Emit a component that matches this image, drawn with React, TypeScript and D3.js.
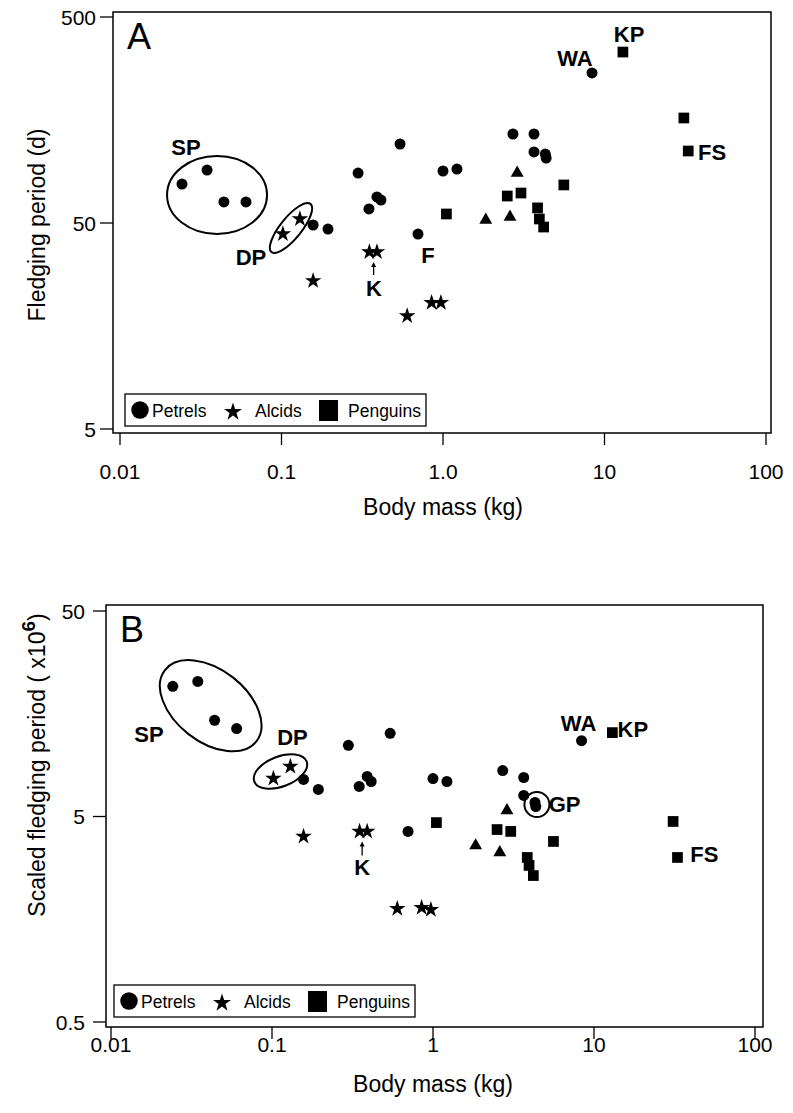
import React from "react";
import * as d3 from "d3";

// ---------- DATA ----------
const xTickValues = [0.01, 0.1, 1, 10, 100];
const xTickLabelsA = ["0.01", "0.1", "1.0", "10", "100"];
const xTickLabelsB = ["0.01", "0.1", "1", "10", "100"];
const yTickValuesA = [5, 50, 500];
const yTickLabelsA = ["5", "50", "500"];
const yTickValuesB = [0.5, 5, 50];
const yTickLabelsB = ["0.5", "5", "50"];

// Petrels (circles)
const petrelMass = [0.0242, 0.0346, 0.044, 0.0603, 0.157, 0.194, 0.298, 0.348, 0.39, 0.413, 0.542, 0.7, 1.0, 1.22, 2.71, 3.66, 3.66, 4.3, 4.35, 8.37];
const petrelPeriod = [77.3, 90.4, 63.3, 63.3, 48.9, 46.7, 87.4, 58.5, 66.9, 64.6, 120.9, 44.2, 89.4, 91.4, 135.2, 135.2, 110.6, 108.1, 103.4, 267.6];
const petrelScaled = [21.5, 22.7, 14.7, 13.4, 7.57, 6.77, 11.1, 7.0, 7.83, 7.4, 12.7, 4.23, 7.65, 7.4, 8.37, 7.74, 6.33, 5.85, 5.59, 11.7];

// Alcids (stars)
const alcidMass = [0.102, 0.13, 0.157, 0.35, 0.39, 0.6, 0.85, 0.97];
const alcidPeriod = [44.2, 52.3, 26.2, 36.2, 36.2, 17.7, 20.5, 20.5];
const alcidScaled = [7.65, 8.75, 4.0, 4.23, 4.23, 1.78, 1.8, 1.76];

// Penguins (squares)
const penguinMass = [1.05, 2.5, 3.04, 3.85, 3.95, 4.2, 5.6, 13.0, 31, 33];
const penguinPeriod = [55.3, 67.6, 69.9, 59.2, 52.3, 47.8, 76.5, 338, 161.7, 111.8];
const penguinScaled = [4.67, 4.32, 4.23, 3.16, 2.89, 2.58, 3.78, 12.8, 4.73, 3.16];

// Other (triangles)
const otherMass = [1.84, 2.6, 2.88];
const otherPeriod = [51.7, 53.5, 87.4];
const otherScaled = [3.61, 3.34, 5.35];

// Annotation labels (data coordinates)
const labelsA = [
  { t: "SP", m: 0.0256, v: 106.9, a: "middle" },
  { t: "DP", m: 0.0647, v: 31.3, a: "middle" },
  { t: "K", m: 0.374, v: 22.1, a: "middle" },
  { t: "F", m: 0.807, v: 32.0, a: "middle" },
  { t: "WA", m: 6.57, v: 289, a: "middle" },
  { t: "KP", m: 14.2, v: 378, a: "middle" },
  { t: "FS", m: 37.9, v: 101.1, a: "start" },
];
const labelsB = [
  { t: "SP", m: 0.0172, v: 11.46, a: "middle" },
  { t: "DP", m: 0.134, v: 11.2, a: "middle" },
  { t: "K", m: 0.363, v: 2.61, a: "middle" },
  { t: "WA", m: 8.02, v: 12.96, a: "middle" },
  { t: "KP", m: 14.0, v: 12.25, a: "start" },
  { t: "GP", m: 5.23, v: 5.23, a: "start" },
  { t: "FS", m: 39.6, v: 2.99, a: "start" },
];
// Ellipse annotations (centre in data coords, radii in px)
const ellipsesA = [
  { m: 0.0399, v: 68.4, rx: 50, ry: 39, rot: 0 },
  { m: 0.1145, v: 47.3, rx: 31, ry: 10.5, rot: -51 },
];
const ellipsesB = [
  { m: 0.0416, v: 17.3, rx: 58, ry: 36, rot: 38 },
  { m: 0.1129, v: 8.28, rx: 28, ry: 15, rot: -21 },
  { m: 4.42, v: 5.72, rx: 12.5, ry: 12.5, rot: 0 },
];
const arrowA = { m: 0.372, v0: 27.96, v1: 32.3 };
const arrowB = { m: 0.363, v0: 3.23, v1: 3.78 };

const FONT = "'Liberation Sans', Arial, Helvetica, sans-serif";

type PanelProps = {
  letter: string;
  frame: { x0: number; x1: number; y0: number; y1: number };
  xRange: [number, number];
  yRange: [number, number];
  yDomain: [number, number];
  yTicks: number[];
  yTickLabels: string[];
  xTickLabels: string[];
  yLabelX: number;
  xLabelY: number;
  xTitleY: number;
  yTitleX: number;
  yTitleY: number;
  yTitle: React.ReactNode;
  petY: number[];
  alcY: number[];
  pengY: number[];
  othY: number[];
  labels: { t: string; m: number; v: number; a: string }[];
  ellipses: { m: number; v: number; rx: number; ry: number; rot: number }[];
  arrow: { m: number; v0: number; v1: number };
  legend: { x: number; y: number };
};

const circleSym = d3.symbol(d3.symbolCircle, 95)();
const starSym = d3.symbol(d3.symbolStar, 85)();
const squareSym = d3.symbol(d3.symbolSquare, 115)();
const triSym = d3.symbol(d3.symbolTriangle, 72)();
const legCircle = d3.symbol(d3.symbolCircle, 240)();
const legStar = d3.symbol(d3.symbolStar, 100)();

function Panel(p: PanelProps) {
  const x = d3.scaleLog().domain([0.01, 100]).range(p.xRange);
  const y = d3.scaleLog().domain(p.yDomain).range(p.yRange);
  const f = p.frame;
  const pts = (ms: number[], vs: number[], sym: string, key: string) =>
    ms.map((m, i) => (
      <path key={key + i} d={sym} transform={`translate(${x(m)},${y(vs[i])})`} fill="#000" />
    ));
  return (
    <g fontFamily={FONT}>
      <rect x={f.x0} y={f.y0} width={f.x1 - f.x0} height={f.y1 - f.y0} fill="none" stroke="#000" strokeWidth={1.5} />
      {xTickValues.map((t, i) => (
        <g key={"xt" + i}>
          <line x1={x(t)} x2={x(t)} y1={f.y1} y2={f.y1 + 12} stroke="#000" strokeWidth={1.3} />
          <text x={x(t)} y={p.xLabelY} textAnchor="middle" fontSize={21}>{p.xTickLabels[i]}</text>
        </g>
      ))}
      {p.yTicks.map((t, i) => (
        <g key={"yt" + i}>
          <line x1={f.x0 - 13} x2={f.x0} y1={y(t)} y2={y(t)} stroke="#000" strokeWidth={1.3} />
          <text x={p.yLabelX} y={y(t) + 7.5} textAnchor="end" fontSize={21}>{p.yTickLabels[i]}</text>
        </g>
      ))}
      <text x={(p.xRange[0] + p.xRange[1]) / 2} y={p.xTitleY} textAnchor="middle" fontSize={23}>Body mass (kg)</text>
      <text transform={`translate(${p.yTitleX},${p.yTitleY}) rotate(-90)`} textAnchor="middle" fontSize={23}>{p.yTitle}</text>
      <text x={f.x0 + 14} y={f.y0 + 37} fontSize={36}>{p.letter}</text>
      {p.ellipses.map((e, i) => (
        <ellipse key={"el" + i} cx={0} cy={0} rx={e.rx} ry={e.ry} fill="none" stroke="#000" strokeWidth={2}
          transform={`translate(${x(e.m)},${y(e.v)}) rotate(${e.rot})`} />
      ))}
      {pts(petrelMass, p.petY, circleSym, "p")}
      {pts(alcidMass, p.alcY, starSym, "a")}
      {pts(penguinMass, p.pengY, squareSym, "g")}
      {pts(otherMass, p.othY, triSym, "o")}
      {p.labels.map((l, i) => (
        <text key={"lb" + i} x={x(l.m)} y={y(l.v)} textAnchor={l.a as any} fontSize={22} fontWeight="bold">{l.t}</text>
      ))}
      <line x1={x(p.arrow.m)} x2={x(p.arrow.m)} y1={y(p.arrow.v0)} y2={y(p.arrow.v1) + 3} stroke="#000" strokeWidth={1.3} />
      <path d={`M${x(p.arrow.m) - 2.5},${y(p.arrow.v1) + 5} L${x(p.arrow.m)},${y(p.arrow.v1)} L${x(p.arrow.m) + 2.5},${y(p.arrow.v1) + 5} Z`} fill="#000" />
      <g transform={`translate(${p.legend.x},${p.legend.y})`}>
        <rect x={0} y={0} width={301} height={32} fill="#fff" stroke="#000" strokeWidth={1.3} />
        <path d={legCircle} transform="translate(15,16)" fill="#000" />
        <text x={27} y={23} fontSize={17.5}>Petrels</text>
        <path d={legStar} transform="translate(108,18)" fill="#000" />
        <text x={130} y={23} fontSize={17.5}>Alcids</text>
        <rect x={194} y={6} width={19} height={21} fill="#000" />
        <text x={223} y={23} fontSize={17.5}>Penguins</text>
      </g>
    </g>
  );
}

export default function App() {
  return (
    <svg width={793} height={1113} style={{ position: "absolute", left: 0, top: 0, background: "#fff" }}>
      <rect width={793} height={1113} fill="#fff" />
      <Panel
        letter="A"
        frame={{ x0: 113, x1: 771, y0: 12, y1: 433 }}
        xRange={[120, 766]}
        yRange={[429, 17]}
        yDomain={[5, 500]}
        yTicks={yTickValuesA}
        yTickLabels={yTickLabelsA}
        xTickLabels={xTickLabelsA}
        yLabelX={96}
        xLabelY={479}
        xTitleY={515}
        yTitleX={45}
        yTitleY={225}
        yTitle={"Fledging period (d)"}
        petY={petrelPeriod}
        alcY={alcidPeriod}
        pengY={penguinPeriod}
        othY={otherPeriod}
        labels={labelsA}
        ellipses={ellipsesA}
        arrow={arrowA}
        legend={{ x: 125, y: 394 }}
      />
      <Panel
        letter="B"
        frame={{ x0: 106, x1: 763, y0: 605, y1: 1027 }}
        xRange={[111, 755]}
        yRange={[1022, 611]}
        yDomain={[0.5, 50]}
        yTicks={yTickValuesB}
        yTickLabels={yTickLabelsB}
        xTickLabels={xTickLabelsB}
        yLabelX={85}
        xLabelY={1052}
        xTitleY={1092}
        yTitleX={45}
        yTitleY={765}
        yTitle={<>
          <tspan>Scaled fledging period ( x10</tspan>
          <tspan dy={-10} fontSize={19} fontWeight="bold">6</tspan>
          <tspan dy={10}>)</tspan>
        </>}
        petY={petrelScaled}
        alcY={alcidScaled}
        pengY={penguinScaled}
        othY={otherScaled}
        labels={labelsB}
        ellipses={ellipsesB}
        arrow={arrowB}
        legend={{ x: 114, y: 985 }}
      />
    </svg>
  );
}
